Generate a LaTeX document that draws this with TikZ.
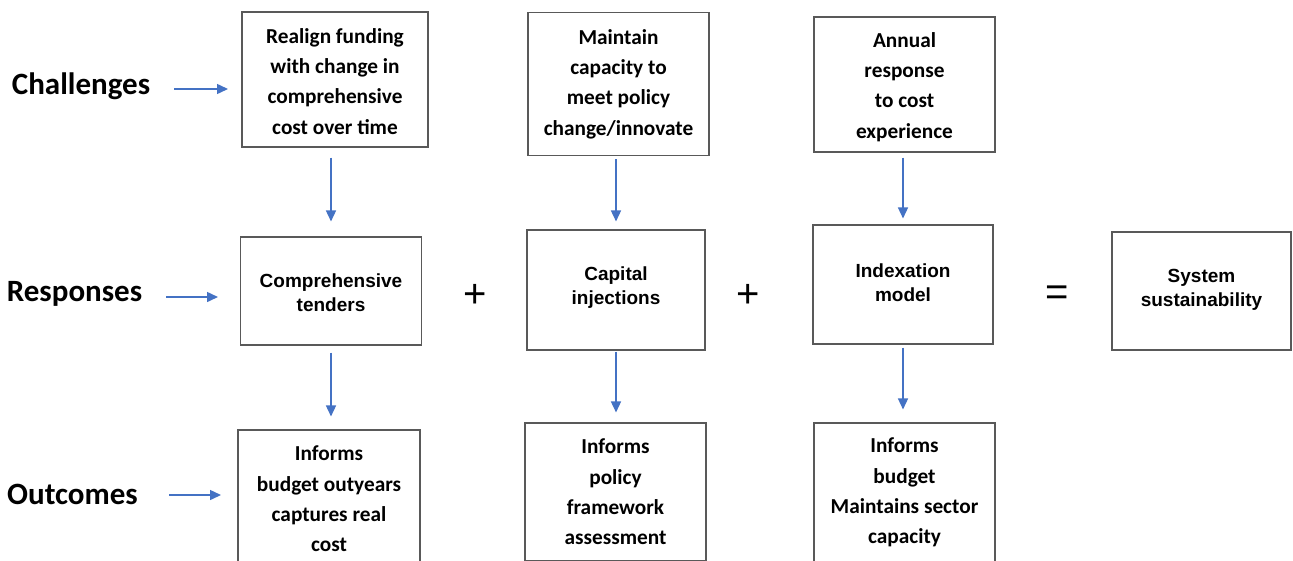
\documentclass[tikz,border=0pt]{standalone}
\usepackage{fontspec}
\setmainfont{Carlito}
\newfontfamily\arialfont{Liberation Sans}
\usetikzlibrary{arrows.meta,calc}
\definecolor{arrblue}{HTML}{4472C4}
\definecolor{boxgray}{HTML}{595959}
% #1 = extra height (moves text down by half), #2 = extra depth (moves text up by half)
\newcommand{\padlines}[3]{\raisebox{0pt}[\dimexpr\height+#1\relax][\dimexpr\depth+#2\relax]{\begin{tabular}{@{}c@{}}#3\end{tabular}}}
\tikzset{
  box/.style={draw=boxgray, line width=1.1pt, inner sep=0pt, align=center, text=black},
  calib/.style={font=\fontsize{21.3}{30.3}\selectfont\bfseries},
  arialtxt/.style={font=\arialfont\fontsize{19}{24}\selectfont\bfseries},
  rowlabel/.style={font=\fontsize{31}{36}\selectfont\bfseries, inner sep=0pt},
  opsign/.style={font=\arialfont\fontsize{40}{40}\selectfont, inner sep=0pt},
  arr/.style={draw=arrblue, line width=1.5pt, -{Triangle[length=11pt,width=10pt]}}
}
\begin{document}
\begin{tikzpicture}[x=1pt,y=-1pt]
\useasboundingbox (0,0) rectangle (1293,560);
\clip (0,0) rectangle (1293,560);
% row labels
\node[rowlabel] (chal) at (81,86) {Challenges};
\node[rowlabel] (resp) at (74.5,294) {Responses};
\node[rowlabel] (outc) at (72.5,494) {Outcomes};
\coordinate (chalE) at (228,89);
\coordinate (respE) at (218,297);
\coordinate (outcE) at (221,495);
\draw[arr] (chal.east |- chalE) ++(24,0) coordinate (chalS) -- (chalE);
\draw[arr] (resp.east |- respE) ++(24,0) coordinate (respS) -- (respE);
\draw[arr] (outc.east |- outcE) ++(31,0) coordinate (outcS) -- (outcE);
% top row
\node[box,calib,minimum width=186pt,minimum height=135pt] (A1) at (335,79.5)
  {\padlines{6pt}{0pt}{Realign funding\\with change in\\comprehensive\\cost over time}};
\node[box,calib,minimum width=181pt,minimum height=143pt] (B1) at (618.5,84)
  {Maintain\\capacity to\\meet policy\\change/innovate};
\node[box,calib,minimum width=181pt,minimum height=135pt] (C1) at (904.5,84.5)
  {\padlines{4pt}{0pt}{Annual\\response\\to cost\\experience}};
% middle row
\node[box,arialtxt,minimum width=181pt,minimum height=108pt] (A2) at (331,291)
  {\padlines{8pt}{0pt}{Comprehensive\\tenders}};
\node[box,arialtxt,minimum width=178pt,minimum height=120pt] (B2) at (616,290)
  {\padlines{0pt}{4pt}{Capital\\injections}};
\node[box,arialtxt,minimum width=180pt,minimum height=119pt] (C2) at (903,284.5)
  {\padlines{0pt}{0pt}{Indexation\\model}};
\node[box,arialtxt,minimum width=179pt,minimum height=118pt] (D2) at (1201.5,291)
  {\padlines{0pt}{2pt}{System\\sustainability}};
% operators
\node[opsign] (plus1) at (475,296) {+};
\node[opsign] (plus2) at (748,296) {+};
\node[opsign] (eq) at (1057,296) {=};
% bottom row
\node[box,calib,minimum width=182pt,minimum height=138pt] (A3) at (329,499)
  {Informs\\budget outyears\\captures real\\cost};
\node[box,calib,minimum width=181pt,minimum height=138pt] (B3) at (615.5,492)
  {Informs\\policy\\framework\\assessment};
\node[box,calib,minimum width=181pt,minimum height=139pt] (C3) at (904.5,492.5)
  {Informs\\budget\\Maintains sector\\capacity};
% vertical arrows
\draw[arr, shorten <=10pt, shorten >=15pt] (A2.north |- A1.south) -- (A2.north);
\draw[arr, shorten <=7pt, shorten >=13pt] (A2.south) -- (A2.south |- A3.north);
\draw[arr, shorten <=3pt, shorten >=8pt] (B2.north |- B1.south) -- (B2.north);
\draw[arr, shorten <=1pt, shorten >=10pt] (B2.south) -- (B2.south |- B3.north);
\draw[arr, shorten <=5pt, shorten >=6pt] (C2.north |- C1.south) -- (C2.north);
\draw[arr, shorten <=3pt, shorten >=13pt] (C2.south) -- (C2.south |- C3.north);
\end{tikzpicture}
\end{document}
